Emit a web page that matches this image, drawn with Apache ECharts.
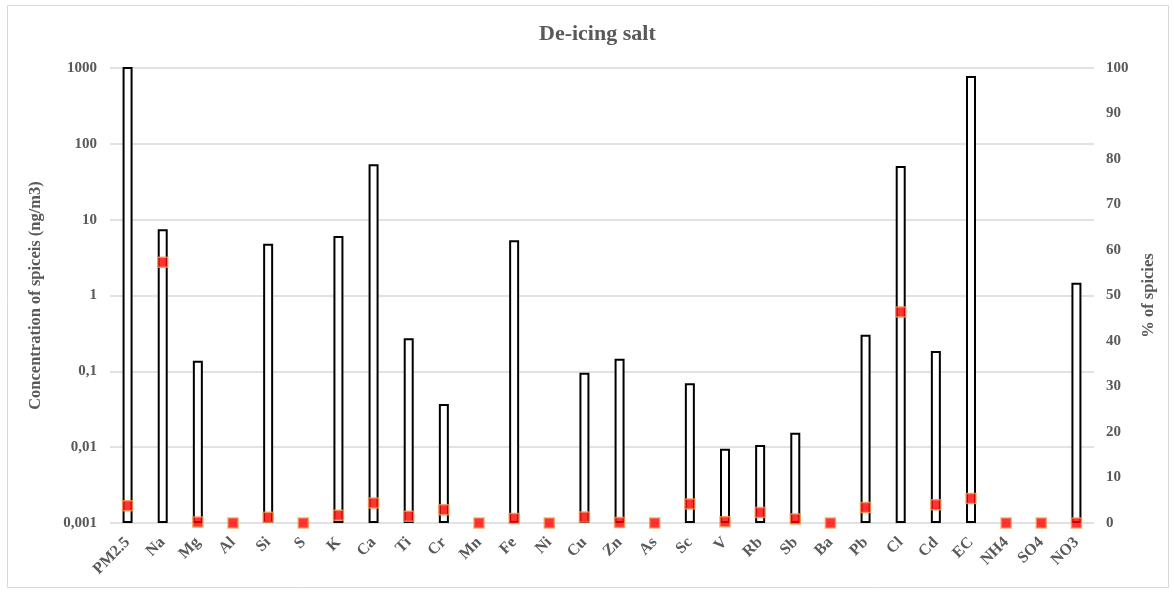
<!DOCTYPE html>
<html>
<head>
<meta charset="utf-8">
<script src="https://cdn.jsdelivr.net/npm/echarts@6/dist/echarts.min.js"></script>
<style>
  html, body { margin: 0; padding: 0; background: #ffffff; }
  #chart { width: 1174px; height: 592px; }
</style>
</head>
<body>
<div id="chart"></div>
<script>
// Species measured in the de-icing salt profile
const species = ['PM2.5', 'Na', 'Mg', 'Al', 'Si', 'S', 'K', 'Ca', 'Ti', 'Cr', 'Mn', 'Fe', 'Ni', 'Cu', 'Zn',
  'As', 'Sc', 'V', 'Rb', 'Sb', 'Ba', 'Pb', 'Cl', 'Cd', 'EC', 'NH4', 'SO4', 'NO3'];

// Concentration (ng/m3), log scale; null = not detected (PM2.5 runs past the axis top)
const concentration = [1200, 7.5, 0.138, null, 4.8, null, 6.1, 54, 0.273, 0.037, null, 5.35, null, 0.096, 0.146,
  null, 0.0695, 0.0095, 0.0107, 0.0155, null, 0.304, 51, 0.185, 785, null, null, 1.47];

// Share of species (%)
const percentage = [3.8, 57.3, 0.2, 0, 1.25, 0, 1.7, 4.4, 1.5, 2.9, 0, 1.0, 0, 1.3, 0.1,
  0, 4.2, 0.3, 2.3, 0.9, 0, 3.4, 46.4, 4.0, 5.4, 0, 0, 0];

// Left axis tick labels (decimal comma)
const logTickLabels = ['0,001', '0,01', '0,1', '1', '10', '100', '1000'];

const font = 'Liberation Serif';
const grey = '#595959';

const chart = echarts.init(document.getElementById('chart'), null, { renderer: 'canvas' });

chart.setOption({
  backgroundColor: '#ffffff',
  animation: false,
  title: {
    text: 'De-icing salt',
    left: 534,
    top: 18,
    textStyle: { fontFamily: font, fontWeight: 'bold', fontSize: 22, color: grey }
  },
  graphic: [{
    type: 'rect',
    shape: { x: 7.5, y: 5.5, width: 1161, height: 582 },
    style: { fill: 'none', stroke: '#d9d9d9', lineWidth: 1 },
    silent: true
  }],
  grid: { left: 110, right: 80, top: 68, bottom: 69 },
  xAxis: {
    type: 'category',
    data: species,
    axisLine: { show: false },
    axisTick: { show: false },
    axisLabel: {
      interval: 0,
      rotate: 45,
      margin: 17,
      fontFamily: font, fontWeight: 'bold', fontSize: 16, color: grey
    }
  },
  yAxis: [{
    type: 'log',
    logBase: 10,
    min: 0.001,
    max: 1000,
    startValue: 0.001,
    name: 'Concentration of spiceis (ng/m3)',
    nameLocation: 'middle',
    nameGap: 66,
    nameTextStyle: { fontFamily: font, fontWeight: 'bold', fontSize: 16.5, color: grey },
    axisLine: { show: false },
    axisTick: { show: false },
    splitLine: { lineStyle: { color: '#d9d9d9', width: 1.5 } },
    axisLabel: {
      margin: 13,
      fontFamily: font, fontWeight: 'bold', fontSize: 15, color: grey,
      formatter: (v, i) => logTickLabels[i]
    }
  }, {
    type: 'value',
    min: 0,
    max: 100,
    interval: 10,
    name: '% of spicies',
    nameLocation: 'middle',
    nameGap: 46,
    nameRotate: 90,
    nameTextStyle: { fontFamily: font, fontWeight: 'bold', fontSize: 16.5, color: grey },
    axisLine: { show: false },
    axisTick: { show: false },
    splitLine: { show: false },
    axisLabel: {
      margin: 12,
      fontFamily: font, fontWeight: 'bold', fontSize: 15, color: grey
    }
  }],
  series: [{
    name: 'Concentration',
    type: 'bar',
    yAxisIndex: 0,
    data: concentration,
    barWidth: 10,
    itemStyle: { color: '#ffffff', borderColor: '#000000', borderWidth: 2 }
  }, {
    name: '% of species',
    type: 'scatter',
    yAxisIndex: 1,
    data: percentage,
    symbol: 'rect',
    symbolSize: 10,
    z: 5,
    itemStyle: { color: '#ff0000', borderColor: '#f39a55', borderWidth: 1.5 }
  }]
});
</script>
</body>
</html>
